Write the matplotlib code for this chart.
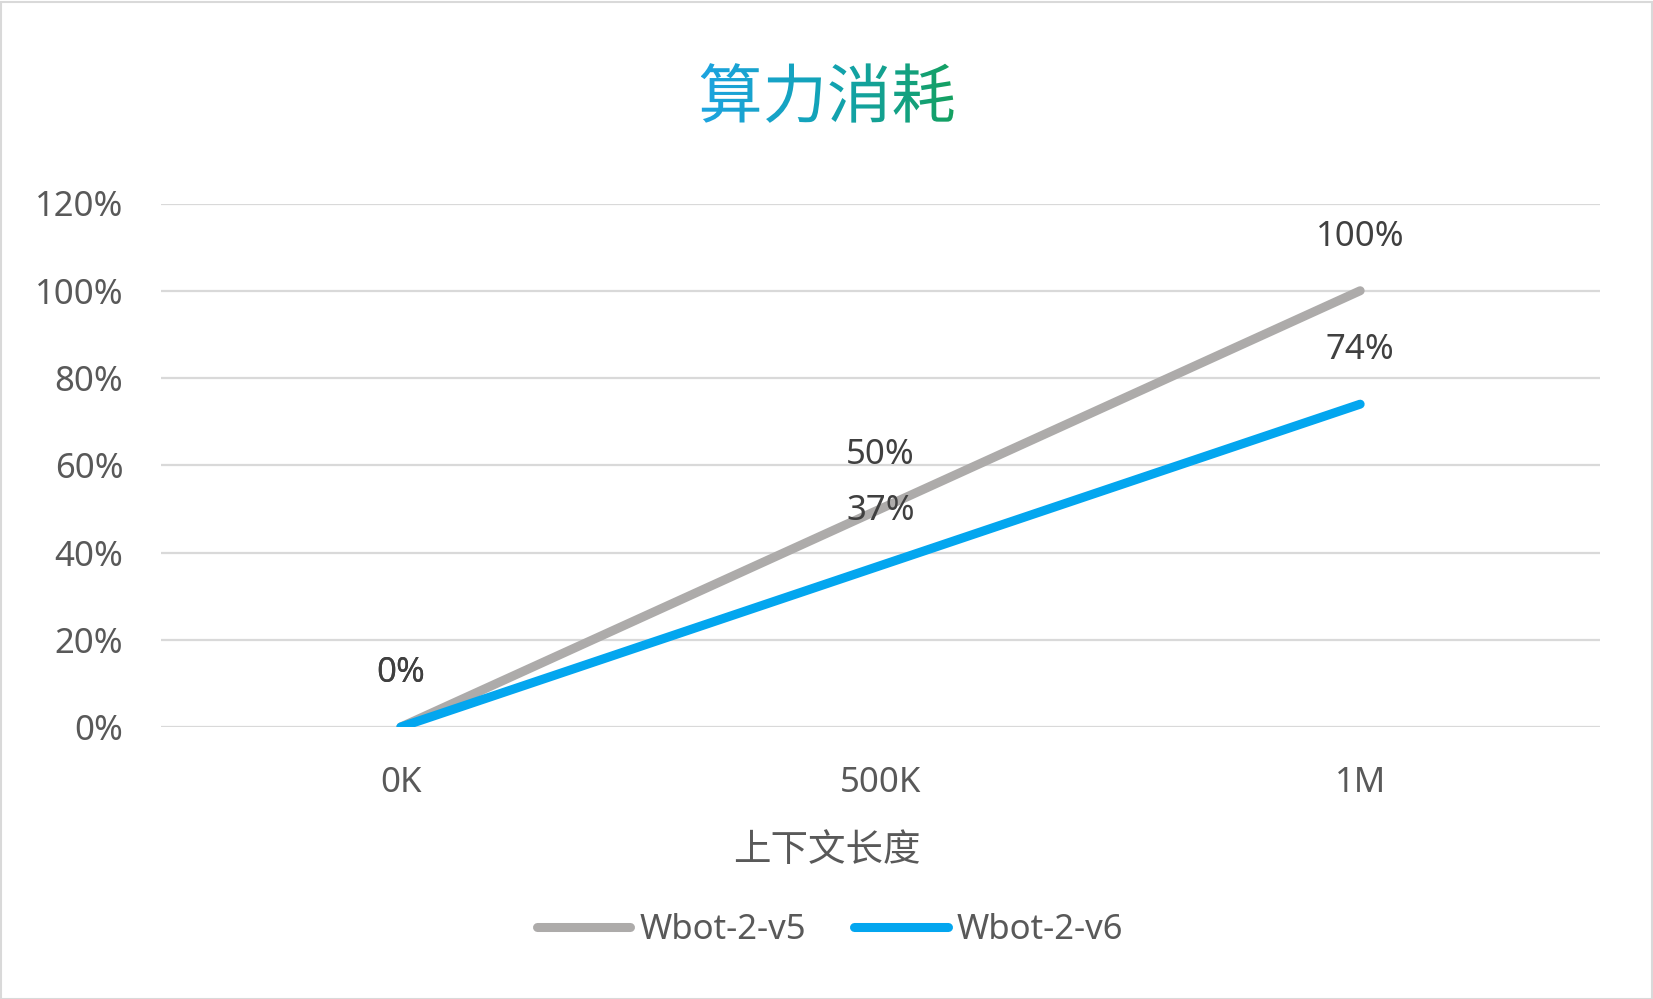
import matplotlib.pyplot as plt
import numpy as np
from matplotlib.colors import LinearSegmentedColormap
from matplotlib.font_manager import FontProperties
from matplotlib.patches import PathPatch, Rectangle
from matplotlib.textpath import TextPath

plt.rcParams['font.family'] = ['Noto Sans', 'Noto Sans CJK SC', 'DejaVu Sans']

# data
categories = ['0K', '500K', '1M']
v5 = [0.0, 0.50, 1.00]
v6 = [0.0, 0.37, 0.74]
series_names = ['Wbot-2-v5', 'Wbot-2-v6']
title = '算力消耗'
xlabel = '上下文长度'
yticks = [0, 0.2, 0.4, 0.6, 0.8, 1.0, 1.2]

W, H = 1653, 999
FS = 25
fig = plt.figure(figsize=(W / 100, H / 100), dpi=100)
fig.patches.append(Rectangle((0.5 / W, 0.5 / H), 1 - 2 / W, 1 - 2 / H, transform=fig.transFigure,
                             fill=False, ec='#D9D9D9', lw=1.5))

ax = fig.add_axes([161 / W, 1 - 727 / H, (1600 - 161) / W, (727 - 203.5) / H])
x = np.arange(len(categories))
c5, c6 = '#ADABAA', '#03A6EF'
ax.plot(x, v5, color=c5, lw=6.5, solid_capstyle='round', label=series_names[0], zorder=3)
ax.plot(x, v6, color=c6, lw=6.5, solid_capstyle='round', label=series_names[1], zorder=4)

for vals in (v5, v6):
    for xi, v in zip(x, vals):
        ax.annotate(f'{v:.0%}', (xi, v), xytext=(0, 39), textcoords='offset points',
                    ha='center', va='center', fontsize=FS, color='#404040')

ax.set_xlim(-0.5, len(categories) - 0.5)
ax.set_ylim(0, 1.2)
ax.set_xticks(x, categories)
ax.set_yticks(yticks, [f'{t:.0%}' for t in yticks])
ax.tick_params(length=0, labelsize=FS, labelcolor='#595959')
ax.tick_params(axis='x', pad=28)
ax.tick_params(axis='y', pad=27)
ax.grid(axis='y', color='#D9D9D9', lw=1.6)
ax.set_axisbelow(True)
for s in ax.spines.values():
    s.set_visible(False)

fig.text(827 / W, 1 - 851 / H, xlabel, ha='center', va='center', fontsize=27, color='#595959',
         family=['Noto Sans CJK SC'])

leg = fig.legend(loc='center', bbox_to_anchor=(830 / W, 1 - 930 / H), ncol=2, frameon=False,
                 fontsize=FS, labelcolor='#595959', handlelength=2.7, handletextpad=0.25,
                 columnspacing=1.4)

# gradient title
tp = TextPath((0, 0), title, size=50, prop=FontProperties(family='Noto Sans CJK SC'))
bb = tp.get_extents()
tw = 253
th = tw * bb.height / bb.width
tax = fig.add_axes([(827 - tw / 2) / W, 1 - (93 + th / 2) / H, tw / W, th / H])
tax.axis('off')
patch = PathPatch(tp, fc='none', ec='none')
tax.add_patch(patch)
cmap = LinearSegmentedColormap.from_list('t', ['#1DA3E0', '#12A3B5', '#15A060'])
im = tax.imshow(np.linspace(0, 1, 256)[None, :], extent=[bb.x0, bb.x1, bb.y0, bb.y1],
                cmap=cmap, aspect='auto')
im.set_clip_path(patch)
tax.set_xlim(bb.x0, bb.x1)
tax.set_ylim(bb.y0, bb.y1)

fig.savefig('out.png', dpi=100)
